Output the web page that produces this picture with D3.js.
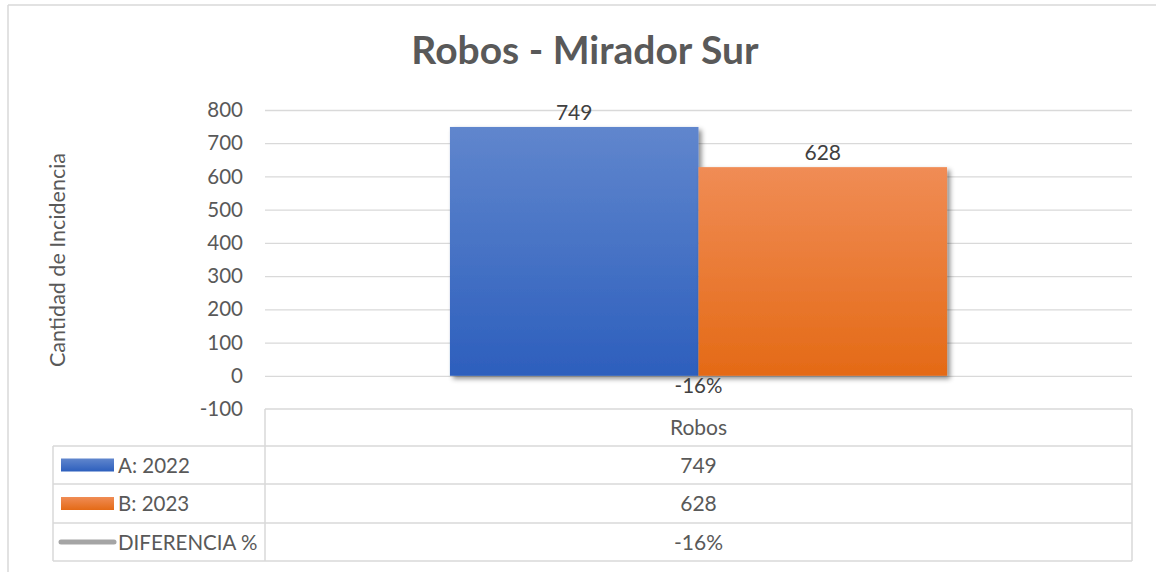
<!doctype html>
<html>
<head>
<meta charset="utf-8">
<script src="https://cdn.jsdelivr.net/npm/d3@7"></script>
<style>
  body { margin: 0; background: #fff; }
  text { font-family: Lato, "Open Sans", sans-serif; }
</style>
</head>
<body>
<svg id="chart" width="1156" height="572"></svg>
<script>
// data
const categories = ["Robos"];
const seriesNames = ["A: 2022", "B: 2023", "DIFERENCIA %"];
const values2022 = [749];
const values2023 = [628];
const diffPct = [-0.16];
const yTicks = [-100, 0, 100, 200, 300, 400, 500, 600, 700, 800];

const svg = d3.select("#chart");
const textColor = "#595959";
const gridColor = "#d9d9d9";
const pct = v => Math.round(v * 100) + "%"; // plain hyphen, like the original

// gradients + shadow
const defs = svg.append("defs");
function grad(id, top, bottom) {
  const g = defs.append("linearGradient").attr("id", id)
    .attr("x1", 0).attr("y1", 0).attr("x2", 0).attr("y2", 1);
  g.append("stop").attr("offset", "0%").attr("stop-color", top);
  g.append("stop").attr("offset", "100%").attr("stop-color", bottom);
}
grad("gBlue", "#6086cd", "#2d5fbd");
grad("gOrange", "#f08c55", "#e46a16");
defs.append("filter").attr("id", "shadow")
  .attr("x", "-10%").attr("y", "-10%").attr("width", "130%").attr("height", "130%")
  .append("feDropShadow")
  .attr("dx", 3).attr("dy", 3).attr("stdDeviation", 2.5)
  .attr("flood-color", "#000").attr("flood-opacity", 0.45);

// outer frame (top + left visible)
svg.append("line").attr("x1", 8).attr("x2", 1156).attr("y1", 5).attr("y2", 5)
  .attr("stroke", gridColor).attr("stroke-width", 1.5);
svg.append("line").attr("x1", 8).attr("x2", 8).attr("y1", 5).attr("y2", 572)
  .attr("stroke", gridColor).attr("stroke-width", 1.5);

// title
svg.append("text").attr("x", 585).attr("y", 64)
  .attr("text-anchor", "middle").attr("font-size", 39).attr("font-weight", "bold")
  .attr("fill", textColor).text("Robos - Mirador Sur");

// scales
const plotLeft = 265, plotRight = 1132;
const y = d3.scaleLinear().domain([-100, 800]).range([409, 110]);
const x0 = d3.scaleBand().domain(categories).range([plotLeft, plotRight]).paddingOuter(0.372);
const x1 = d3.scaleBand().domain(["A: 2022", "B: 2023"]).range([0, x0.bandwidth()]);

// gridlines
svg.append("g")
  .attr("transform", `translate(${plotLeft},0)`)
  .call(d3.axisLeft(y).tickValues(yTicks.filter(d => d > -100)).tickSize(-(plotRight - plotLeft)).tickFormat(""))
  .call(g => g.select(".domain").remove())
  .call(g => g.selectAll("line").attr("stroke", gridColor).attr("stroke-width", 1.3));

// y tick labels
svg.append("g")
  .attr("transform", "translate(243,0)")
  .call(d3.axisLeft(y).tickValues(yTicks).tickSize(0).tickPadding(0).tickFormat(d => String(d)))
  .call(g => g.select(".domain").remove())
  .call(g => g.selectAll("text").attr("font-size", 20.5).attr("fill", textColor)
    .attr("font-family", "Lato, 'Open Sans', sans-serif"));

// y axis title
svg.append("text")
  .attr("transform", "translate(65,260) rotate(-90)")
  .attr("text-anchor", "middle").attr("font-size", 21.5).attr("fill", textColor)
  .text("Cantidad de Incidencia");

// bars
const barData = categories.flatMap((c, i) => [
  { cat: c, key: "A: 2022", v: values2022[i], fill: "url(#gBlue)" },
  { cat: c, key: "B: 2023", v: values2023[i], fill: "url(#gOrange)" }
]);
svg.append("g").selectAll("rect").data(barData).join("rect")
  .attr("x", d => x0(d.cat) + x1(d.key))
  .attr("y", d => y(d.v))
  .attr("width", x1.bandwidth())
  .attr("height", d => y(0) - y(d.v))
  .attr("fill", d => d.fill)
  .attr("filter", "url(#shadow)");

// bar labels
svg.append("g").selectAll("text").data(barData).join("text")
  .attr("x", d => x0(d.cat) + x1(d.key) + x1.bandwidth() / 2)
  .attr("y", d => y(d.v) - 7)
  .attr("text-anchor", "middle").attr("font-size", 21).attr("fill", "#404040")
  .text(d => d.v);

// difference label (line series at ~0)
svg.append("g").selectAll("text").data(categories).join("text")
  .attr("x", d => x0(d) + x0.bandwidth() / 2)
  .attr("y", (d, i) => y(diffPct[i]) + 17)
  .attr("text-anchor", "middle").attr("font-size", 20.5).attr("fill", "#404040")
  .text((d, i) => pct(diffPct[i]));

// data table
const tLeft = 53, tDiv = plotLeft, tRight = plotRight;
const rowY = [409, 446, 484, 523, 561];
const tbl = svg.append("g").attr("stroke", gridColor).attr("stroke-width", 1.5);
tbl.append("line").attr("x1", tDiv).attr("x2", tRight).attr("y1", rowY[0]).attr("y2", rowY[0]);
rowY.slice(1).forEach(yy => tbl.append("line").attr("x1", tLeft).attr("x2", tRight).attr("y1", yy).attr("y2", yy));
tbl.append("line").attr("x1", tLeft).attr("x2", tLeft).attr("y1", rowY[1]).attr("y2", rowY[4]);
tbl.append("line").attr("x1", tDiv).attr("x2", tDiv).attr("y1", rowY[0]).attr("y2", rowY[4]);
tbl.append("line").attr("x1", tRight).attr("x2", tRight).attr("y1", rowY[0]).attr("y2", rowY[4]);

const colMid = x0(categories[0]) + x0.bandwidth() / 2;
svg.append("text").attr("x", colMid).attr("y", (rowY[0] + rowY[1]) / 2 + 7.5)
  .attr("text-anchor", "middle").attr("font-size", 21).attr("fill", textColor).text(categories[0]);

const rowVals = [values2022[0], values2023[0], pct(diffPct[0])];
rowVals.forEach((v, i) => {
  const cy = (rowY[i + 1] + rowY[i + 2]) / 2;
  svg.append("text").attr("x", colMid).attr("y", cy + 7.5)
    .attr("text-anchor", "middle").attr("font-size", 21).attr("fill", textColor).text(v);
  svg.append("text").attr("x", 118).attr("y", cy + 7.5)
    .attr("font-size", 20.5).attr("fill", textColor).text(seriesNames[i]);
});

// legend keys
const k1 = (rowY[1] + rowY[2]) / 2, k2 = (rowY[2] + rowY[3]) / 2, k3 = (rowY[3] + rowY[4]) / 2;
svg.append("rect").attr("x", 61).attr("y", k1 - 6.5).attr("width", 53).attr("height", 13).attr("fill", "url(#gBlue)");
svg.append("rect").attr("x", 61).attr("y", k2 - 6.5).attr("width", 53).attr("height", 13).attr("fill", "url(#gOrange)");
svg.append("line").attr("x1", 61).attr("x2", 114).attr("y1", k3).attr("y2", k3)
  .attr("stroke", "#a5a5a5").attr("stroke-width", 5).attr("stroke-linecap", "round");
</script>
</body>
</html>
